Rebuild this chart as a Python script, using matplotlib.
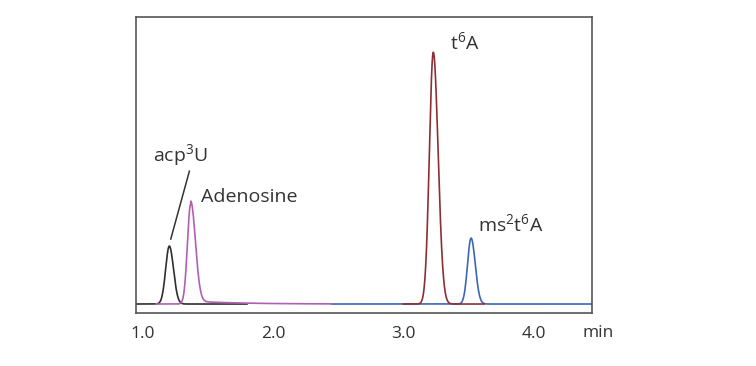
import matplotlib
matplotlib.use("Agg")
import matplotlib.pyplot as plt
import numpy as np

plt.rcParams["font.family"] = ["Open Sans", "DejaVu Sans"]

# peak table (retention time in min, relative height, left/right widths in min)
compounds = ["acp3U", "Adenosine", "t6A", "ms2t6A"]
retention = [1.204, 1.368, 3.23, 3.52]
heights = [58, 100, 252, 66]
sigma_left = [0.028, 0.025, 0.030, 0.027]
sigma_right = [0.032, 0.036, 0.037, 0.032]
trace_start = [0.946, 1.10, 3.00, 2.45]
trace_end = [1.80, 2.45, 3.62, 4.446]
colors = ["#2e2e2e", "#b05fb4", "#8c2f33", "#3d66b5"]

labels = [r"$\mathregular{acp^3U}$", "Adenosine", r"$\mathregular{t^6A}$", r"$\mathregular{ms^2t^6A}$"]
label_x = [1.286, 1.447, 3.358, 3.573]
label_y = [149, 107, 262, 80]
label_ha = ["center", "left", "left", "left"]

xticks = [1.0, 2.0, 3.0, 4.0]
xtick_labels = ["1.0", "2.0", "3.0", "4.0"]


def peak(t, rt, h, sl, sr):
    s = np.where(t < rt, sl, sr)
    return h * np.exp(-0.5 * ((t - rt) / s) ** 2)


fig = plt.figure(figsize=(7.56, 3.66), dpi=100)
ax = fig.add_axes([0.1795, 0.1448, 0.6032, 0.8079])

# blue first so the red t6A trace sits over it
order = [3, 0, 1, 2]
for i in order:
    t = np.linspace(trace_start[i], trace_end[i], 800)
    y = peak(t, retention[i], heights[i], sigma_left[i], sigma_right[i])
    if i == 1:
        # small tailing after adenosine
        y = y + 3.0 * np.exp(-np.clip(t - retention[i], 0, None) / 0.35) * (t > retention[i])
    ax.plot(t, y, color=colors[i], lw=1.2, zorder=2 + (i == 2))

for i in range(len(labels)):
    ax.text(label_x[i], label_y[i], labels[i], ha=label_ha[i], va="center",
            fontsize=14, color="#333333")

# leader line for acp3U
ax.plot([1.358, 1.215], [133, 65], color="#333333", lw=1.1)

ax.set_xlim(0.946, 4.446)
ax.set_ylim(-9, 287)
ax.set_yticks([])
ax.set_xticks(xticks)
ax.set_xticklabels(xtick_labels, fontsize=12.5, color="#333333")
ax.tick_params(axis="x", length=0, pad=9)
for sp in ax.spines.values():
    sp.set_color("#555555")
    sp.set_linewidth(1.2)

fig.text(598 / 756, 1 - 333 / 366, "min", ha="center", va="center",
         fontsize=12.5, color="#333333")

fig.savefig("out.png", dpi=100)
